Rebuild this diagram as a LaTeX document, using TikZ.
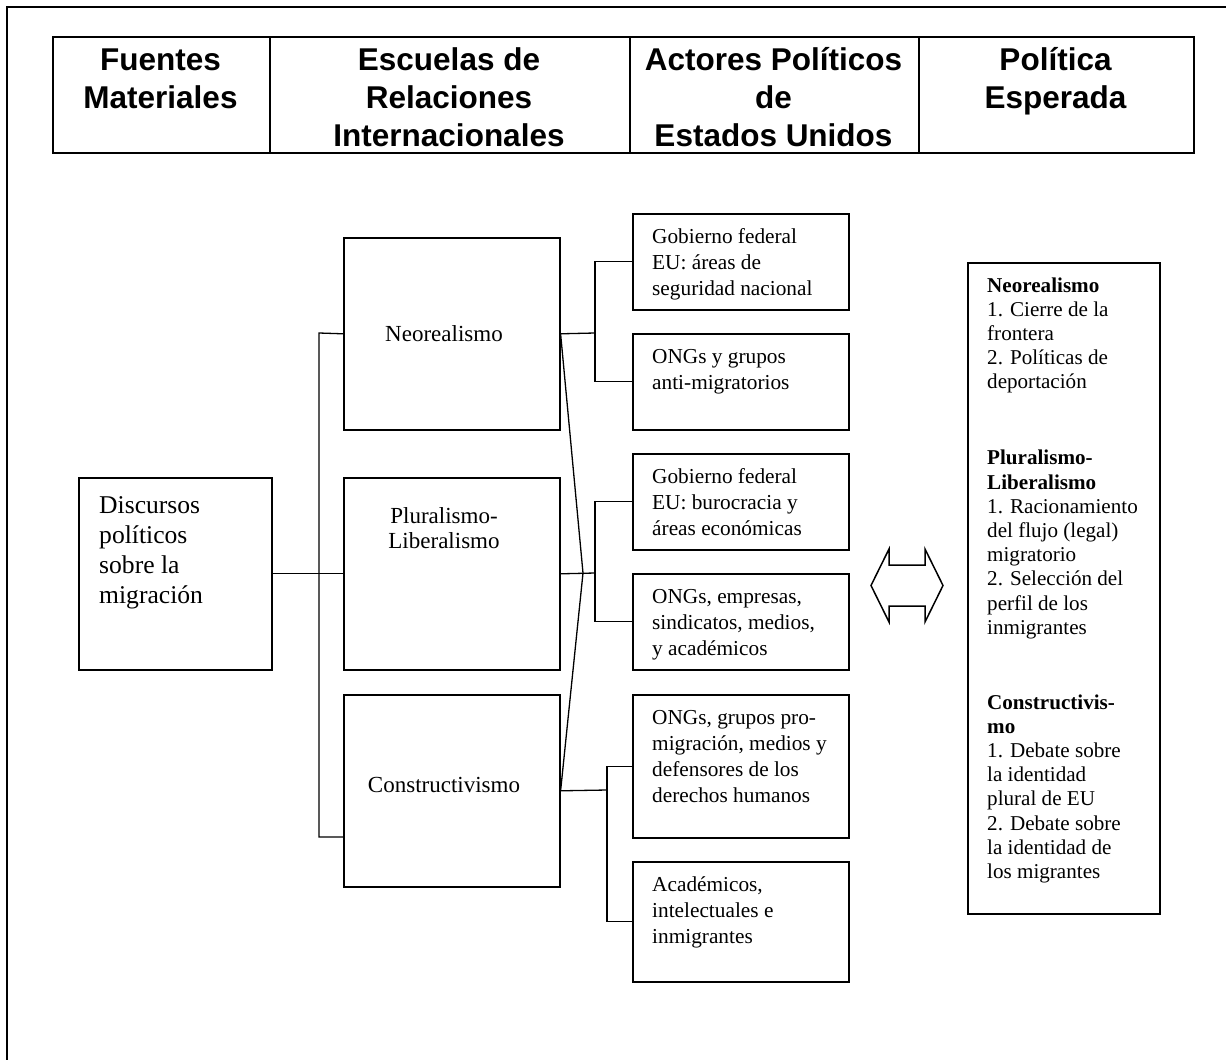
\documentclass[tikz,border=0pt]{standalone}
\usepackage{fontspec}
\setmainfont{Liberation Serif}
\newfontfamily\hdrfont{Liberation Sans}
\usetikzlibrary{calc}
\begin{document}
\begin{tikzpicture}[x=1pt,y=-1pt,
  box/.style={draw, line width=1.6pt, inner sep=0pt, anchor=north west},
  hcell/.style={draw, line width=2.2pt, inner sep=0pt, anchor=north west, minimum height=116pt},
  conn/.style={line width=1.3pt},
  hdr/.style={font=\hdrfont\bfseries\fontsize{31.5}{38}\selectfont, align=center, inner sep=0pt, anchor=north},
  acttext/.style={font=\fontsize{21.3}{26}\selectfont, align=left, inner sep=0pt, anchor=north west},
  midtext/.style={font=\fontsize{23}{25}\selectfont, align=center, inner sep=0pt, anchor=base},
  disctext/.style={font=\fontsize{25.6}{30}\selectfont, align=left, inner sep=0pt, anchor=north west},
  poltext/.style={font=\fontsize{21.1}{24.2}\selectfont, align=left, inner sep=0pt, anchor=north west}
]
\useasboundingbox[fill=white] (0,0) rectangle (1226,1060);

% outer frame
\draw[line width=2.5pt] (7,1070) -- (7,7) -- (1236,7);

% header table
\node[hcell, minimum width=217pt] (hc1) at (52,36) {};
\node[hcell, minimum width=360pt] (hc2) at (269,36) {};
\node[hcell, minimum width=289pt] (hc3) at (629,36) {};
\node[hcell, minimum width=275pt] (hc4) at (918,36) {};
\node[hdr] (ht1) at (160.5,43.4) {\strut Fuentes\\Materiales};
\node[hdr] (ht2) at (449,43.4) {\strut Escuelas de\\Relaciones\\Internacionales};
\node[hdr] (ht3) at (773.5,43.4) {\strut Actores Políticos\\de\\Estados Unidos};
\node[hdr] (ht4) at (1055.5,43.4) {\strut Política\\Esperada};

% boxes
\node[box, minimum width=193pt, minimum height=192pt] (disc) at (78,477) {};
\node[box, minimum width=216pt, minimum height=192pt] (neo) at (343,237) {};
\node[box, minimum width=216pt, minimum height=192pt] (plu) at (343,477) {};
\node[box, minimum width=216pt, minimum height=192pt] (con) at (343,694) {};
\node[box, minimum width=216pt, minimum height=96pt] (a1) at (632,213) {};
\node[box, minimum width=216pt, minimum height=96pt] (a2) at (632,333) {};
\node[box, minimum width=216pt, minimum height=96pt] (a3) at (632,453) {};
\node[box, minimum width=216pt, minimum height=96pt] (a4) at (632,573) {};
\node[box, minimum width=216pt, minimum height=143pt] (a5) at (632,694) {};
\node[box, minimum width=216pt, minimum height=120pt] (a6) at (632,861) {};
\node[box, line width=2pt, minimum width=192pt, minimum height=651pt] (pol) at (967,262) {};

% texts
\node[disctext] (disct) at (99,492) {\strut Discursos\\políticos\\sobre la\\migración};
\node[midtext] (neot) at (444,341) {Neorealismo};
\node[midtext] (plut) at (444,548) {Pluralismo-\\Liberalismo};
\node[midtext] (cont) at (444,792) {Constructivismo};

\node[acttext] (a1t) at (652,224.8) {\strut Gobierno federal\\EU: áreas de\\seguridad nacional};
\node[acttext] (a2t) at (652,344.8) {\strut ONGs y grupos\\anti-migratorios};
\node[acttext] (a3t) at (652,464.8) {\strut Gobierno federal\\EU: burocracia y\\áreas económicas};
\node[acttext] (a4t) at (652,584.8) {\strut ONGs, empresas,\\sindicatos, medios,\\y académicos};
\node[acttext] (a5t) at (652,705.8) {\strut ONGs, grupos pro-\\migración, medios y\\defensores de los\\derechos humanos};
\node[acttext] (a6t) at (652,872.8) {\strut Académicos,\\intelectuales e\\inmigrantes};

\node[poltext] (polt) at (987,275) {\strut\textbf{Neorealismo}\\
1. Cierre de la\\
frontera\\
2. Políticas de\\
deportación\\[51.7pt]
\textbf{Pluralismo-}\\
\textbf{Liberalismo}\\
1. Racionamiento\\
del flujo (legal)\\
migratorio\\
2. Selección del\\
perfil de los\\
inmigrantes\\[50.7pt]
\textbf{Constructivis-}\\
\textbf{mo}\\
1. Debate sobre\\
la identidad\\
plural de EU\\
2. Debate sobre\\
la identidad de\\
los migrantes};

% connector coordinates
\coordinate (lbtop) at (319,333);
\coordinate (lbbot) at (319,837);
\coordinate (rb1) at (595,333);
\coordinate (rb2) at (595,573);
\coordinate (rb3) at (607,790);
\coordinate (cross) at (583,573);

% connectors
\draw[conn] (disc.east) -- (plu.west);
\draw[conn] (neo.west) -- (lbtop) -- (lbbot) -- (con.west |- lbbot);
\draw[conn] (neo.east) -- (rb1);
\draw[conn] (a1.west) -| (rb1);
\draw[conn] (a2.west) -| (rb1);
\draw[conn] (plu.east) -- (rb2);
\draw[conn] (a3.west) -| (rb2);
\draw[conn] (a4.west) -| (rb2);
\draw[conn] (con.east) -- (rb3);
\draw[conn] (a5.west) -| (rb3);
\draw[conn] (a6.west) -| (rb3);
\draw[conn] (neo.east) -- (cross) -- (con.east);

% double arrow
\coordinate (dar) at (907,585.5);
\draw[line width=1.5pt, line join=miter]
  ($(dar)+(-36,0)$) -- ($(dar)+(-18,-36.5)$) -- ($(dar)+(-18,-20.5)$) --
  ($(dar)+(18,-20.5)$) -- ($(dar)+(18,-36.5)$) -- ($(dar)+(36,0)$) --
  ($(dar)+(18,36.5)$) -- ($(dar)+(18,20.5)$) -- ($(dar)+(-18,20.5)$) --
  ($(dar)+(-18,36.5)$) -- cycle;
\end{tikzpicture}
\end{document}
